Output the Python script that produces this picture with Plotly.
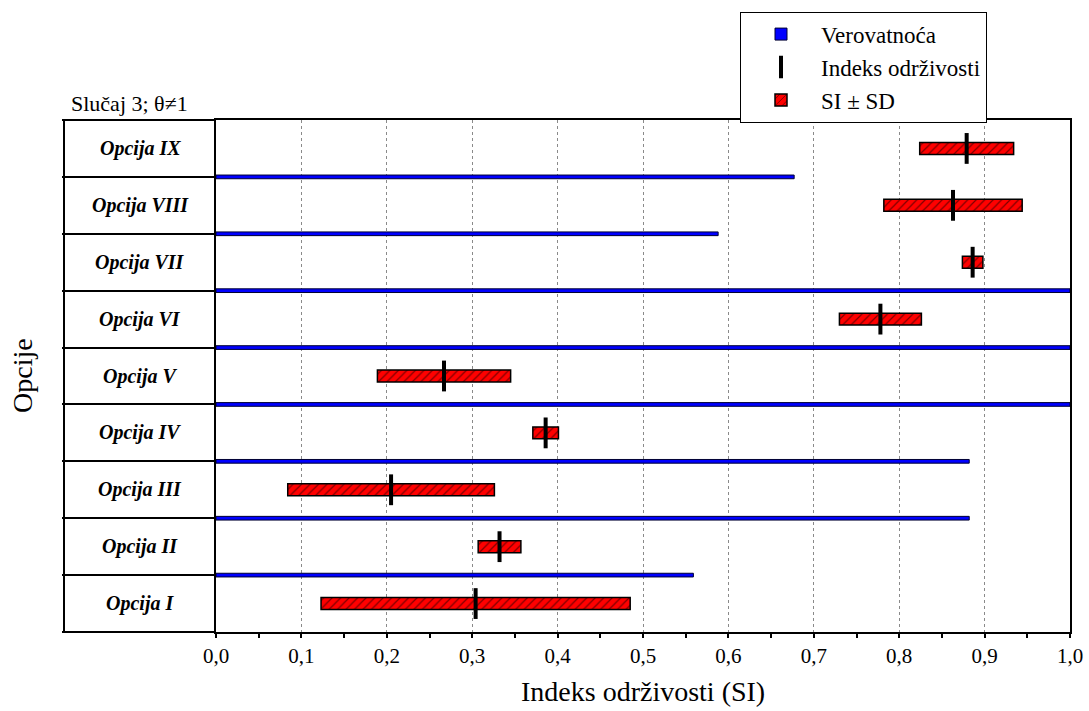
import plotly.graph_objects as go

opcije = ["Opcija I", "Opcija II", "Opcija III", "Opcija IV", "Opcija V",
          "Opcija VI", "Opcija VII", "Opcija VIII", "Opcija IX"]
si = [0.304, 0.332, 0.205, 0.386, 0.267, 0.778, 0.886, 0.863, 0.879]
sd = [0.181, 0.025, 0.121, 0.015, 0.078, 0.048, 0.012, 0.081, 0.055]
verovatnoca = [0.559, 0.882, 0.882, 1.0, 1.0, 1.0, 0.588, 0.677, None]
x_ticks = [0.0, 0.1, 0.2, 0.3, 0.4, 0.5, 0.6, 0.7, 0.8, 0.9, 1.0]

FONT = "Liberation Serif"
W, H = 1089, 711
L, R, T, B = 216, 19, 117, 79
pw = W - L - R
ph = H - T - B

fig = go.Figure()

# probability bars (thin, drawn at the upper boundary of each option row)
fig.add_trace(go.Bar(
    y=opcije, x=verovatnoca, orientation="h",
    width=0.065, offset=0.4675,
    marker=dict(color="#0000ff", line=dict(color="#000033", width=1)),
    name="Verovatnoća", legendrank=1,
))

# SI +/- SD bars
fig.add_trace(go.Bar(
    y=opcije,
    x=[2 * d for d in sd],
    base=[s - d for s, d in zip(si, sd)],
    orientation="h",
    width=0.21,
    marker=dict(color="#ff0000", line=dict(color="black", width=1.5),
                pattern=dict(shape="/", fgcolor="black", bgcolor="#ff0000",
                             size=6, solidity=0.2)),
    name="SI ± SD", legendrank=3,
))

# SI markers
fig.add_trace(go.Scatter(
    y=opcije, x=si, mode="markers",
    marker=dict(symbol="line-ns", size=22, line=dict(color="black", width=4)),
    name="Indeks održivosti", legendrank=2,
))

annotations = []
for o in opcije:
    annotations.append(dict(
        x=-76 / pw, xref="paper", y=o, yref="y", text=o, showarrow=False,
        xanchor="center", yanchor="middle",
        font=dict(family=FONT, size=20, color="black", weight="bold", style="italic"),
    ))
annotations.append(dict(
    x=(22 - L) / pw, xref="paper", y=0.5, yref="paper", text="Opcije",
    textangle=-90, showarrow=False, xanchor="center", yanchor="middle",
    font=dict(family=FONT, size=28, color="black"),
))
annotations.append(dict(
    x=(69 - L) / pw, xref="paper", y=(H - B - 100) / ph, yref="paper",
    text="Slučaj 3; θ≠1", showarrow=False, xanchor="left", yanchor="middle",
    font=dict(family=FONT, size=22, color="black"),
))
annotations.append(dict(
    x=0.5, xref="paper", y=-(692 - (H - B)) / ph, yref="paper",
    text="Indeks održivosti (SI)", showarrow=False,
    xanchor="center", yanchor="middle",
    font=dict(family=FONT, size=28, color="black"),
))

xl = (64 - L) / pw
shapes = [
    dict(type="line", xref="paper", yref="paper", x0=xl, x1=xl, y0=0, y1=1,
         line=dict(color="black", width=2)),
    dict(type="line", xref="paper", yref="paper", x0=xl, x1=0, y0=1, y1=1,
         line=dict(color="black", width=2)),
    dict(type="line", xref="paper", yref="paper", x0=xl, x1=0, y0=0, y1=0,
         line=dict(color="black", width=2)),
]

fig.update_layout(
    width=W, height=H, autosize=False,
    margin=dict(l=L, r=R, t=T, b=B),
    paper_bgcolor="white", plot_bgcolor="white",
    separators=",.",
    barmode="overlay",
    font=dict(family=FONT, color="black"),
    showlegend=True,
    legend=dict(
        traceorder="normal",
        x=(740 - L) / pw, y=(H - B - 8) / ph, xanchor="left", yanchor="top",
        bgcolor="white", bordercolor="black", borderwidth=1,
        font=dict(family=FONT, size=23, color="black"),
        itemwidth=70, tracegroupgap=0,
    ),
    xaxis=dict(
        range=[0, 1], tickvals=x_ticks, tickformat=".1f",
        ticks="outside", ticklen=4, tickwidth=1.5, tickcolor="black",
        minor=dict(dtick=0.05, ticks="outside", ticklen=4, tickwidth=1.5,
                   tickcolor="black", showgrid=False),
        showgrid=True, gridcolor="#8a8a8a", griddash="dot", gridwidth=1,
        showline=True, linecolor="black", linewidth=2, mirror=True,
        zeroline=False, automargin=False,
        tickfont=dict(family=FONT, size=21, color="black"),
    ),
    yaxis=dict(
        type="category", categoryorder="array", categoryarray=opcije,
        range=[-0.5, len(opcije) - 0.5],
        tickson="boundaries", ticks="outside", ticklen=L - 64,
        tickwidth=2, tickcolor="black", automargin=False,
        showticklabels=False, showgrid=False, zeroline=False,
        showline=True, linecolor="black", linewidth=2, mirror=True,
    ),
    annotations=annotations,
    shapes=shapes,
)

fig.write_html("out.html", post_script="document.body.style.margin='0';",
               config={"displayModeBar": False})
